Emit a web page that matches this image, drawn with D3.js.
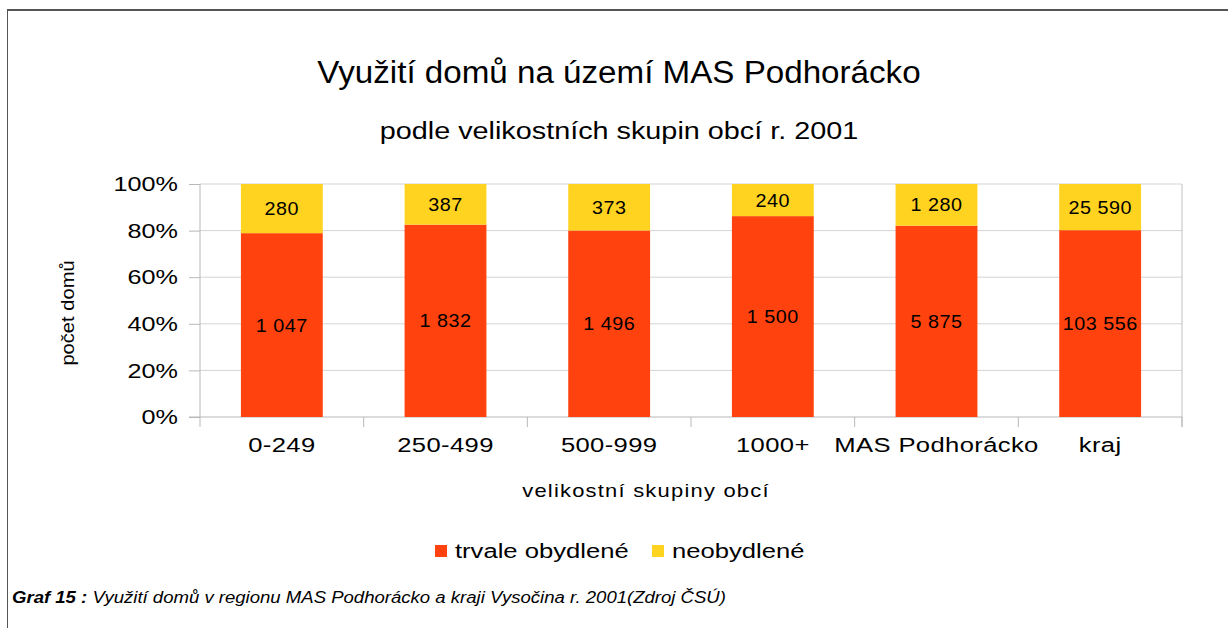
<!DOCTYPE html>
<html>
<head>
<meta charset="utf-8">
<script src="https://cdn.jsdelivr.net/npm/d3@7"></script>
<style>
  body { margin: 0; background: #fff; }
  svg text { font-family: "Liberation Sans", Arial, sans-serif; fill: #000; }
</style>
</head>
<body>
<div id="chart"></div>
<script>
// categories and house counts (census 2001)
const categories = ["0-249", "250-499", "500-999", "1000+", "MAS Podhorácko", "kraj"];
const occupied = [1047, 1832, 1496, 1500, 5875, 103556];
const vacant = [280, 387, 373, 240, 1280, 25590];
const seriesNames = ["trvale obydlené", "neobydlené"];
const colors = ["#ff420e", "#ffd320"];
const yTicks = [0, 0.2, 0.4, 0.6, 0.8, 1];

const width = 1228, height = 628;
const plot = { left: 200, right: 1182, top: 184, bottom: 417 };

const svg = d3.select("#chart").append("svg")
    .attr("width", width)
    .attr("height", height);

// the source renders text a bit wider than Liberation Sans, stretch horizontally
function stretch(sel, sx) {
    sel.each(function() {
        const t = d3.select(this);
        const x0 = +t.attr("x") || 0, y0 = +t.attr("y") || 0;
        const base = t.attr("transform") || "";
        t.attr("transform", `${base} translate(${x0},${y0}) scale(${sx},1) translate(${-x0},${-y0})`);
    });
}

// frame (top + left edges only)
svg.append("line").attr("x1", 7).attr("x2", width).attr("y1", 10).attr("y2", 10)
    .attr("stroke", "#555").attr("stroke-width", 2);
svg.append("line").attr("x1", 7.5).attr("x2", 7.5).attr("y1", 10).attr("y2", height)
    .attr("stroke", "#555").attr("stroke-width", 1);

const x = d3.scaleBand()
    .domain(categories)
    .range([plot.left, plot.right])
    .paddingInner(0.5)
    .paddingOuter(0.25);

const y = d3.scaleLinear()
    .domain([0, 1])
    .range([plot.bottom, plot.top]);

// gridlines
svg.selectAll("line.grid")
    .data(yTicks.slice(1))
    .enter().append("line")
    .attr("class", "grid")
    .attr("x1", plot.left).attr("x2", plot.right)
    .attr("y1", d => y(d)).attr("y2", d => y(d))
    .attr("stroke", "#d4d4d4");

// right border of plot area
svg.append("line")
    .attr("x1", plot.right).attr("x2", plot.right)
    .attr("y1", plot.top).attr("y2", plot.bottom + 10)
    .attr("stroke", "#c0c0c0");

// y axis
const yAxis = svg.append("g")
    .attr("transform", `translate(${plot.left},0)`)
    .call(d3.axisLeft(y).tickValues(yTicks).tickFormat(d3.format(".0%")).tickSize(11).tickPadding(11));
yAxis.select(".domain").attr("stroke", "#b8b8b8").attr("d", `M0,${plot.top}V${plot.bottom + 10}`);
yAxis.selectAll(".tick line").attr("stroke", "#b8b8b8");
yAxis.selectAll(".tick text").attr("font-size", 21).attr("font-family", "Liberation Sans, Arial, sans-serif")
    .call(stretch, 1.2);

// x axis
const xAxis = svg.append("g")
    .attr("transform", `translate(0,${plot.bottom})`)
    .call(d3.axisBottom(x).tickSize(0).tickPadding(20));
xAxis.select(".domain").remove();
xAxis.append("line").attr("x1", plot.left - 11).attr("x2", plot.right)
    .attr("stroke", "#b8b8b8");
xAxis.selectAll("line.sep")
    .data(categories)
    .enter().append("line")
    .attr("class", "sep")
    .attr("x1", d => x(d) + x.bandwidth() * 1.5)
    .attr("x2", d => x(d) + x.bandwidth() * 1.5)
    .attr("y1", 0).attr("y2", 10)
    .attr("stroke", "#b8b8b8");
xAxis.selectAll(".tick text").attr("font-size", 21).attr("font-family", "Liberation Sans, Arial, sans-serif")
    .attr("letter-spacing", 0.3)
    .call(stretch, 1.22);

// stacked percentage data
const rows = categories.map((c, i) => {
    const total = occupied[i] + vacant[i];
    return { cat: c, vals: [occupied[i], vacant[i]], total: total };
});
const fmt = v => d3.format(",")(v).replace(/,/g, " ");

rows.forEach(r => {
    let acc = 0;
    r.vals.forEach((v, k) => {
        const y0 = acc / r.total, y1 = (acc + v) / r.total;
        acc += v;
        svg.append("rect")
            .attr("x", x(r.cat))
            .attr("width", x.bandwidth())
            .attr("y", y(y1))
            .attr("height", y(y0) - y(y1))
            .attr("fill", colors[k]);
        svg.append("text")
            .attr("x", x(r.cat) + x.bandwidth() / 2)
            .attr("y", (y(y0) + y(y1)) / 2)
            .attr("dy", "0.35em")
            .attr("text-anchor", "middle")
            .attr("font-size", 19)
            .attr("letter-spacing", 0.5)
            .text(fmt(v))
            .call(stretch, 1.04);
    });
});

// titles
svg.append("text").attr("x", 619).attr("y", 83).attr("text-anchor", "middle")
    .attr("font-size", 31).text("Využití domů na území MAS Podhorácko")
    .call(stretch, 1.07);
svg.append("text").attr("x", 619).attr("y", 139).attr("text-anchor", "middle")
    .attr("font-size", 24).text("podle velikostních skupin obcí r. 2001")
    .call(stretch, 1.2);

svg.append("text")
    .attr("transform", "translate(74,313) rotate(-90)")
    .attr("text-anchor", "middle")
    .attr("font-size", 19)
    .text("počet domů")
    .call(stretch, 1.06);

svg.append("text").attr("x", 646).attr("y", 497).attr("text-anchor", "middle")
    .attr("font-size", 18).attr("letter-spacing", 1).text("velikostní skupiny obcí")
    .call(stretch, 1.22);

// legend
const legend = svg.append("g").attr("transform", "translate(435,545)");
const legX = [0, 217];
seriesNames.forEach((n, i) => {
    legend.append("rect").attr("x", legX[i]).attr("y", 0).attr("width", 12).attr("height", 12)
        .attr("fill", colors[i]);
    legend.append("text").attr("x", legX[i] + 20).attr("y", 6).attr("dy", "0.35em")
        .attr("font-size", 21).text(n)
        .call(stretch, 1.22);
});

// caption
const cap = svg.append("text").attr("x", 12).attr("y", 603)
    .attr("font-size", 16).attr("font-style", "italic");
cap.append("tspan").attr("font-weight", "bold").text("Graf 15 :");
cap.append("tspan").text(" Využití domů v regionu MAS Podhorácko a kraji Vysočina r. 2001(Zdroj ČSÚ)");
cap.call(stretch, 1.16);
</script>
</body>
</html>
